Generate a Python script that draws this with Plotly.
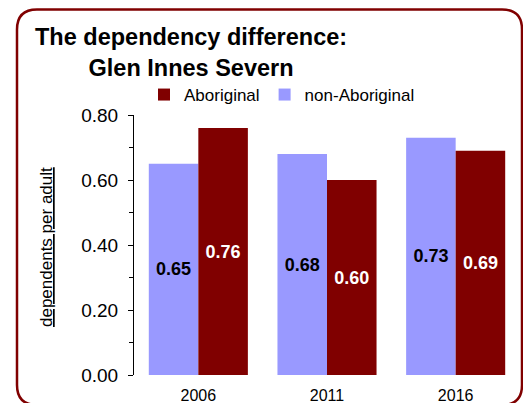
import plotly.graph_objects as go

years = ["2006", "2011", "2016"]
aboriginal = [0.76, 0.60, 0.69]
non_aboriginal = [0.65, 0.68, 0.73]

y_ticks = [0.0, 0.2, 0.4, 0.6, 0.8]

RED = "#800000"
LILAC = "#9999FF"
FONT = "Liberation Sans, Arial, sans-serif"

# the page body has an 8px margin, so figure coords = screen coords - 8
OFF = 8
W, H = 531, 403
L, R, T, B = 126, 19, 107, 36
PW = W - L - R
PH = H - T - B


def px(x):
    # screen x -> paper x
    return (x - OFF - L) / PW


def py(y):
    # screen y -> paper y
    return (H - B - (y - OFF)) / PH


fig = go.Figure()

fig.add_trace(go.Bar(
    x=years, y=non_aboriginal, name="non-Aboriginal",
    marker=dict(color=LILAC, line=dict(width=0)),
    text=[f"{v:.2f}" for v in non_aboriginal],
    textposition="inside", insidetextanchor="middle",
    textfont=dict(family=FONT, size=18, color="black", weight="bold"),
    legendrank=2,
))
fig.add_trace(go.Bar(
    x=years, y=aboriginal, name="Aboriginal",
    marker=dict(color=RED, line=dict(width=0)),
    text=[f"{v:.2f}" for v in aboriginal],
    textposition="inside", insidetextanchor="middle",
    textfont=dict(family=FONT, size=18, color="white", weight="bold"),
    legendrank=1,
))

# rounded frame round the whole chart
x0, x1 = px(17), px(522)
y0, y1 = py(405), py(9.5)
rx, ry = 20 / PW, 20 / PH
frame = (
    f"M{x0 + rx},{y1} L{x1 - rx},{y1} Q{x1},{y1} {x1},{y1 - ry} "
    f"L{x1},{y0 + ry} Q{x1},{y0} {x1 - rx},{y0} "
    f"L{x0 + rx},{y0} Q{x0},{y0} {x0},{y0 + ry} "
    f"L{x0},{y1 - ry} Q{x0},{y1} {x0 + rx},{y1} Z"
)
fig.add_shape(type="path", path=frame, xref="paper", yref="paper",
              line=dict(color=RED, width=2.5), layer="above")

fig.add_annotation(
    text="<b>The dependency difference:<br>Glen Innes Severn</b>",
    xref="paper", yref="paper", x=px(191), y=py(53),
    xanchor="center", yanchor="middle", showarrow=False, align="center",
    font=dict(family=FONT, size=23.5, color="black"),
)
fig.add_annotation(
    text="<u>dependents per adult</u>",
    xref="paper", yref="paper", x=px(46), y=py(247),
    xanchor="center", yanchor="middle", showarrow=False, textangle=-90,
    font=dict(family=FONT, size=17, color="black"),
)

fig.update_layout(
    width=W, height=H,
    margin=dict(l=L, r=R, t=T, b=B, autoexpand=False),
    paper_bgcolor="white", plot_bgcolor="white",
    barmode="group", bargap=0.23, bargroupgap=0,
    showlegend=True,
    legend=dict(
        orientation="h", x=px(144), y=py(95), xanchor="left", yanchor="middle",
        font=dict(family=FONT, size=17, color="black"),
        bgcolor="rgba(0,0,0,0)", itemwidth=30,
    ),
    font=dict(family=FONT, color="black"),
)

fig.update_xaxes(
    automargin=False,
    showline=False, showgrid=False, ticks="",
    tickfont=dict(family=FONT, size=16, color="black"),
    ticklabelstandoff=9,
)
fig.update_yaxes(
    automargin=False,
    range=[0, 0.8], tickvals=y_ticks, tickformat=".2f",
    showline=True, linecolor="black", linewidth=1,
    ticks="outside", ticklen=5, tickcolor="black",
    minor=dict(dtick=0.1, ticks="outside", ticklen=4, tickcolor="black"),
    showgrid=False, zeroline=False,
    tickfont=dict(family=FONT, size=19, color="black"),
    ticklabelstandoff=6,
)

fig.write_html("out.html")
